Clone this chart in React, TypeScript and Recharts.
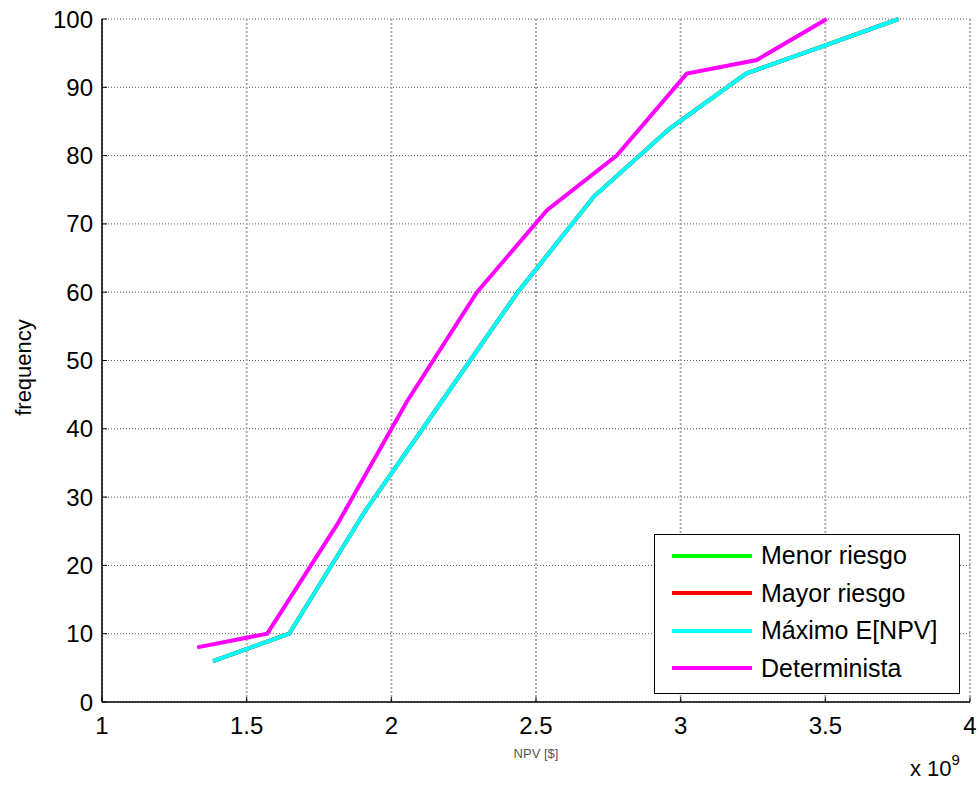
import React from 'react';
import { LineChart, Line, XAxis, YAxis, CartesianGrid, Legend } from 'recharts';

// NPV (x 10^9) and cumulative frequency for each portfolio
const npvMenor = [1.384, 1.647, 1.91, 2.174, 2.437, 2.7, 2.963, 3.226, 3.49, 3.753];
const freqMenor = [6, 10, 28, 44, 60, 74, 84, 92, 96, 100];
const npvMayor = [1.384, 1.647, 1.91, 2.174, 2.437, 2.7, 2.963, 3.226, 3.49, 3.753];
const freqMayor = [6, 10, 28, 44, 60, 74, 84, 92, 96, 100];
const npvMaximo = [1.384, 1.647, 1.91, 2.174, 2.437, 2.7, 2.963, 3.226, 3.49, 3.753];
const freqMaximo = [6, 10, 28, 44, 60, 74, 84, 92, 96, 100];
const npvDeterminista = [1.329, 1.571, 1.813, 2.054, 2.296, 2.538, 2.779, 3.021, 3.263, 3.505];
const freqDeterminista = [8, 10, 26, 44, 60, 72, 80, 92, 94, 100];

const xTicks = [1, 1.5, 2, 2.5, 3, 3.5, 4];
const yTicks = [0, 10, 20, 30, 40, 50, 60, 70, 80, 90, 100];

const zip = (xs: number[], ys: number[]) => xs.map((x, i) => ({ x, y: ys[i] }));

const series = [
  { name: 'Menor riesgo', color: '#00ff00', data: zip(npvMenor, freqMenor) },
  { name: 'Mayor riesgo', color: '#ff0000', data: zip(npvMayor, freqMayor) },
  { name: 'Máximo E[NPV]', color: '#00ffff', data: zip(npvMaximo, freqMaximo) },
  { name: 'Determinista', color: '#ff00ff', data: zip(npvDeterminista, freqDeterminista) },
];

const FONT = '"Liberation Sans", Arial, Helvetica, sans-serif';

const LegendBox = () => (
  <div
    style={{
      width: 304,
      height: 156,
      border: '1px solid #000',
      background: '#fff',
      paddingTop: 2,
      boxSizing: 'content-box',
      fontFamily: FONT,
      fontSize: 25,
      color: '#000',
    }}
  >
    {series.map((s) => (
      <div key={s.name} style={{ display: 'flex', alignItems: 'center', height: 37.5 }}>
        <span style={{ display: 'inline-block', width: 80, height: 4, marginLeft: 17, background: s.color }} />
        <span style={{ marginLeft: 9, whiteSpace: 'nowrap' }}>{s.name}</span>
      </div>
    ))}
  </div>
);

const App: React.FC = () => {
  return (
    <div style={{ position: 'absolute', left: 0, top: 0, width: 980, height: 787, background: '#fff' }}>
      <LineChart width={980} height={787} margin={{ top: 19, right: 10, left: 0, bottom: 0 }}>
        <CartesianGrid horizontal={true} vertical={false} stroke="#555" strokeDasharray="1 2" />
        <CartesianGrid horizontal={false} vertical={true} stroke="#aaa" strokeWidth={2} strokeDasharray="2 2" />
        <XAxis
          dataKey="x"
          type="number"
          domain={[1, 4]}
          ticks={xTicks}
          allowDataOverflow
          height={85}
          tickSize={-5}
          tickMargin={20}
          tick={{ fontSize: 24, fill: '#000', fontFamily: FONT }}
          axisLine={{ stroke: '#000', strokeWidth: 1.5 }}
          tickLine={{ stroke: '#000' }}
          label={(props: any) => {
            const vb = props.viewBox || { x: 102, width: 868, y: 702 };
            return (
              <text
                x={vb.x + vb.width / 2}
                y={vb.y + 56}
                textAnchor="middle"
                fontSize={13}
                fill="#555"
                fontFamily={FONT}
              >
                NPV [$]
              </text>
            );
          }}
        />
        <XAxis
          xAxisId="top"
          orientation="top"
          type="number"
          domain={[1, 4]}
          ticks={xTicks}
          height={0}
          tick={false}
          tickSize={-5}
          axisLine={false}
          tickLine={{ stroke: '#000' }}
        />
        <YAxis
          type="number"
          domain={[0, 100]}
          ticks={yTicks}
          width={102}
          tickSize={-5}
          tickMargin={14}
          tick={{ fontSize: 24, fill: '#000', fontFamily: FONT }}
          axisLine={{ stroke: '#000', strokeWidth: 1.5 }}
          tickLine={{ stroke: '#000' }}
          label={(props: any) => {
            const vb = props.viewBox || { x: 0, y: 19, height: 683 };
            const cx = vb.x + 23;
            const cy = vb.y + vb.height / 2 + 7;
            return (
              <text
                x={cx}
                y={cy}
                transform={`rotate(-90 ${cx} ${cy})`}
                textAnchor="middle"
                dominantBaseline="central"
                fontSize={22}
                fill="#000"
                fontFamily={FONT}
              >
                frequency
              </text>
            );
          }}
        />
        <YAxis
          yAxisId="right"
          orientation="right"
          type="number"
          domain={[0, 100]}
          ticks={yTicks}
          width={0}
          tick={false}
          tickSize={-5}
          axisLine={false}
          tickLine={{ stroke: '#000' }}
        />
        {series.map((s) => (
          <Line
            key={s.name}
            name={s.name}
            data={s.data}
            dataKey="y"
            type="linear"
            stroke={s.color}
            strokeWidth={4}
            dot={false}
            activeDot={false}
            isAnimationActive={false}
          />
        ))}
        <Legend
          layout="vertical"
          align="center"
          verticalAlign="middle"
          content={() => <LegendBox />}
          wrapperStyle={{ position: 'absolute', left: 654, top: 534, width: 306, height: 160 }}
        />
      </LineChart>
      <div
        style={{
          position: 'absolute',
          left: 910,
          top: 758,
          fontFamily: FONT,
          fontSize: 22,
          color: '#000',
          whiteSpace: 'nowrap',
          lineHeight: 1,
        }}
      >
        x 10<sup style={{ fontSize: 15, verticalAlign: 'top', position: 'relative', top: -6 }}>9</sup>
      </div>
    </div>
  );
};

export default App;
